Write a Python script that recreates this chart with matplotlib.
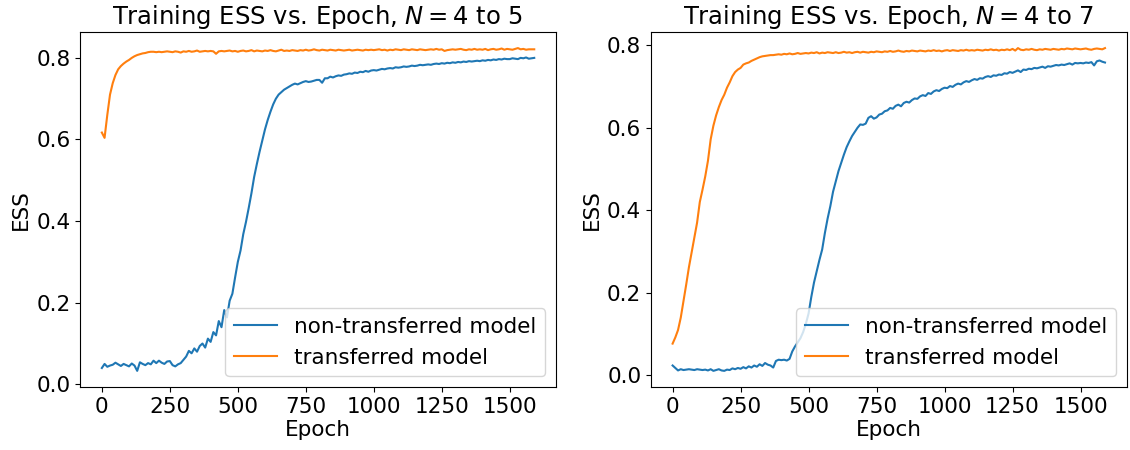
import numpy as np
import matplotlib
matplotlib.use("Agg")
import matplotlib.pyplot as plt
from matplotlib.ticker import MultipleLocator

# epochs logged every 10 steps
epochs = np.arange(0, 1600, 10)

# N = 4 to 5
ess_plain_5 = [
    0.040, 0.050, 0.043, 0.046, 0.048, 0.053, 0.049, 0.045, 0.050, 0.047,
    0.044, 0.051, 0.046, 0.033, 0.054, 0.050, 0.047, 0.052, 0.049, 0.058,
    0.052, 0.058, 0.053, 0.050, 0.056, 0.057, 0.047, 0.044, 0.049, 0.052,
    0.060, 0.068, 0.082, 0.076, 0.088, 0.080, 0.094, 0.100, 0.090, 0.112,
    0.104, 0.128, 0.120, 0.155, 0.140, 0.182, 0.164, 0.205, 0.222, 0.262,
    0.300, 0.328, 0.368, 0.398, 0.432, 0.468, 0.508, 0.540, 0.570, 0.598,
    0.625, 0.648, 0.668, 0.686, 0.700, 0.710, 0.716, 0.722, 0.726, 0.730,
    0.734, 0.737, 0.735, 0.738, 0.741, 0.743, 0.741, 0.742, 0.744, 0.746,
    0.746, 0.739, 0.750, 0.750, 0.754, 0.752, 0.755, 0.757, 0.756, 0.759,
    0.760, 0.762, 0.761, 0.764, 0.763, 0.766, 0.765, 0.768, 0.766, 0.769,
    0.770, 0.769, 0.771, 0.773, 0.772, 0.774, 0.775, 0.774, 0.777, 0.776,
    0.777, 0.779, 0.778, 0.779, 0.781, 0.780, 0.781, 0.783, 0.782, 0.783,
    0.784, 0.783, 0.785, 0.786, 0.785, 0.787, 0.786, 0.788, 0.787, 0.789,
    0.788, 0.790, 0.789, 0.791, 0.790, 0.792, 0.791, 0.792, 0.793, 0.792,
    0.794, 0.793, 0.795, 0.794, 0.796, 0.795, 0.797, 0.796, 0.798, 0.797,
    0.797, 0.799, 0.798, 0.797, 0.800, 0.799, 0.801, 0.798, 0.799, 0.800,
]
ess_transfer_5 = [
    0.617, 0.604, 0.660, 0.710, 0.738, 0.758, 0.772, 0.780, 0.786, 0.791,
    0.795, 0.800, 0.804, 0.807, 0.809, 0.811, 0.812, 0.814, 0.815, 0.815,
    0.814, 0.815, 0.814, 0.815, 0.816, 0.815, 0.814, 0.816, 0.815, 0.813,
    0.816, 0.815, 0.817, 0.815, 0.816, 0.818, 0.815, 0.816, 0.817, 0.816,
    0.817, 0.816, 0.810, 0.816, 0.817, 0.816, 0.817, 0.818, 0.816, 0.817,
    0.815, 0.817, 0.818, 0.816, 0.817, 0.819, 0.816, 0.818, 0.817, 0.816,
    0.818, 0.817, 0.819, 0.817, 0.816, 0.818, 0.820, 0.817, 0.818, 0.817,
    0.819, 0.818, 0.817, 0.819, 0.818, 0.820, 0.818, 0.819, 0.821, 0.819,
    0.818, 0.820, 0.819, 0.818, 0.820, 0.819, 0.818, 0.820, 0.819, 0.818,
    0.819, 0.820, 0.818, 0.819, 0.820, 0.819, 0.818, 0.820, 0.819, 0.820,
    0.819, 0.820, 0.821, 0.819, 0.820, 0.818, 0.820, 0.819, 0.821, 0.820,
    0.819, 0.821, 0.820, 0.819, 0.821, 0.820, 0.819, 0.821, 0.820, 0.819,
    0.820, 0.821, 0.820, 0.822, 0.820, 0.821, 0.817, 0.819, 0.820, 0.821,
    0.820, 0.821, 0.822, 0.820, 0.819, 0.821, 0.820, 0.822, 0.820, 0.821,
    0.820, 0.822, 0.819, 0.821, 0.822, 0.820, 0.821, 0.823, 0.820, 0.822,
    0.821, 0.820, 0.822, 0.824, 0.821, 0.822, 0.820, 0.821, 0.821, 0.821,
]

# N = 4 to 7
ess_plain_7 = [
    0.024, 0.018, 0.012, 0.015, 0.013, 0.014, 0.015, 0.014, 0.013, 0.015,
    0.014, 0.013, 0.014, 0.012, 0.015, 0.011, 0.013, 0.015, 0.012, 0.011,
    0.014, 0.013, 0.017, 0.015, 0.018, 0.016, 0.020, 0.017, 0.022, 0.019,
    0.024, 0.021, 0.027, 0.023, 0.030, 0.026, 0.024, 0.019, 0.035, 0.038,
    0.037, 0.038, 0.036, 0.040, 0.058, 0.070, 0.080, 0.090, 0.105, 0.125,
    0.150, 0.190, 0.225, 0.253, 0.280, 0.305, 0.345, 0.380, 0.410, 0.445,
    0.470, 0.495, 0.515, 0.535, 0.553, 0.567, 0.580, 0.590, 0.600, 0.608,
    0.607, 0.610, 0.624, 0.628, 0.622, 0.625, 0.632, 0.634, 0.640, 0.642,
    0.648, 0.646, 0.653, 0.656, 0.652, 0.660, 0.663, 0.661, 0.667, 0.671,
    0.670, 0.676, 0.679, 0.677, 0.684, 0.682, 0.688, 0.691, 0.689, 0.694,
    0.697, 0.696, 0.701, 0.699, 0.704, 0.707, 0.705, 0.710, 0.713, 0.711,
    0.715, 0.718, 0.716, 0.720, 0.719, 0.723, 0.725, 0.723, 0.727, 0.726,
    0.729, 0.728, 0.732, 0.731, 0.735, 0.733, 0.736, 0.739, 0.735, 0.741,
    0.740, 0.743, 0.742, 0.745, 0.744, 0.746, 0.748, 0.745, 0.749, 0.748,
    0.750, 0.752, 0.751, 0.753, 0.752, 0.754, 0.756, 0.753, 0.757, 0.756,
    0.757, 0.756, 0.758, 0.757, 0.759, 0.751, 0.761, 0.763, 0.760, 0.758,
]
ess_transfer_7 = [
    0.077, 0.092, 0.110, 0.140, 0.180, 0.220, 0.262, 0.298, 0.335, 0.370,
    0.420, 0.450, 0.482, 0.520, 0.572, 0.605, 0.630, 0.650, 0.667, 0.680,
    0.697, 0.710, 0.725, 0.735, 0.741, 0.745, 0.753, 0.756, 0.758, 0.762,
    0.765, 0.768, 0.771, 0.773, 0.774, 0.775, 0.776, 0.776, 0.777, 0.778,
    0.777, 0.779, 0.778, 0.780, 0.778, 0.779, 0.781, 0.779, 0.780, 0.781,
    0.780, 0.782, 0.781, 0.783, 0.780, 0.782, 0.781, 0.783, 0.782, 0.781,
    0.783, 0.781, 0.782, 0.784, 0.782, 0.783, 0.781, 0.783, 0.784, 0.782,
    0.784, 0.783, 0.782, 0.784, 0.783, 0.785, 0.784, 0.783, 0.785, 0.784,
    0.786, 0.784, 0.785, 0.787, 0.785, 0.784, 0.786, 0.785, 0.787, 0.786,
    0.785, 0.787, 0.786, 0.785, 0.787, 0.786, 0.788, 0.786, 0.787, 0.785,
    0.787, 0.788, 0.786, 0.788, 0.787, 0.786, 0.788, 0.787, 0.789, 0.787,
    0.788, 0.787, 0.789, 0.788, 0.787, 0.789, 0.788, 0.790, 0.788, 0.789,
    0.787, 0.789, 0.788, 0.790, 0.788, 0.791, 0.787, 0.793, 0.789, 0.788,
    0.790, 0.789, 0.791, 0.789, 0.788, 0.790, 0.789, 0.791, 0.790, 0.789,
    0.791, 0.790, 0.789, 0.791, 0.790, 0.792, 0.791, 0.790, 0.792, 0.791,
    0.790, 0.791, 0.792, 0.790, 0.789, 0.791, 0.792, 0.791, 0.790, 0.793,
]

titles = ['Training ESS vs. Epoch, $N = 4$ to 5',
          'Training ESS vs. Epoch, $N = 4$ to 7']

plt.rcParams['font.size'] = 15.5

fig, axes = plt.subplots(1, 2, figsize=(11.3, 4.5), dpi=100)
fig.subplots_adjust(left=0.071, right=0.997, bottom=0.14, top=0.929, wspace=0.2)

panels = [(ess_plain_5, ess_transfer_5), (ess_plain_7, ess_transfer_7)]
for ax, (plain, transfer), title in zip(axes, panels, titles):
    ax.plot(epochs, plain, label='non-transferred model')
    ax.plot(epochs, transfer, label='transferred model')
    ax.set_title(title, fontsize=17.5)
    ax.set_xlabel('Epoch', labelpad=2)
    ax.set_ylabel('ESS')
    ax.set_xticks([0, 250, 500, 750, 1000, 1250, 1500])
    ax.yaxis.set_major_locator(MultipleLocator(0.2))
    ax.legend(loc='lower right')

fig.savefig('out.png')
